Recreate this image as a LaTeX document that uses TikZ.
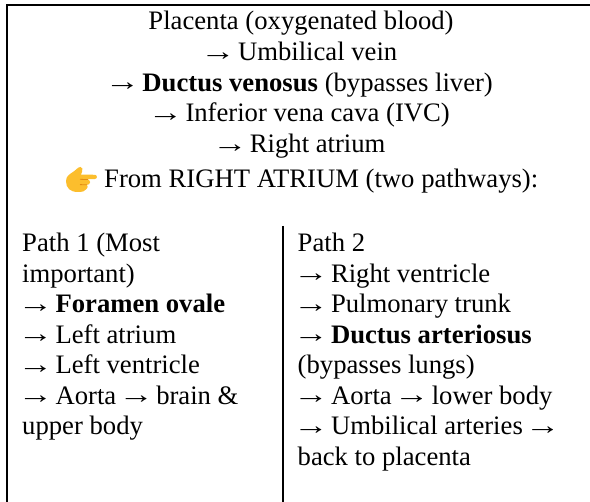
\documentclass[tikz,border=0pt]{standalone}
\usepackage{fontspec}
\setmainfont{Liberation Serif}
\definecolor{handorange}{RGB}{252,190,45}
\definecolor{handdark}{RGB}{226,140,20}
\newcommand{\longarr}{\makebox[1em][c]{\raisebox{0.5pt}{\scalebox{1.32}[1]{→}}}}
\tikzset{
  centerline/.style={anchor=base,inner sep=0pt,font=\fontsize{26.67}{30.67}\selectfont},
  leftline/.style={anchor=base west,inner sep=0pt,font=\fontsize{26.67}{30.67}\selectfont},
  rulestroke/.style={line width=2.2pt,black}
}
\begin{document}
\begin{tikzpicture}[x=1pt,y=-1pt]
\useasboundingbox (0,0) rectangle (590,502);
\fill[white] (0,0) rectangle (590,502);
\draw[rulestroke] (590,5) -- (7,5) -- (7,502);
\draw[rulestroke] (283,226) -- (283,502);
\node[centerline] (t1) at (301,30) {Placenta (oxygenated blood)};
\node[centerline] (t2) at (301,60.7) {\longarr{} Umbilical vein};
\node[centerline] (t3) at (301,91.4) {\longarr{} \textbf{Ductus venosus} (bypasses liver)};
\node[centerline] (t4) at (301,122) {\longarr{} Inferior vena cava (IVC)};
\node[centerline] (t5) at (301,152.7) {\longarr{} Right atrium};
\node[leftline] (t6) at (104,188) {From RIGHT ATRIUM (two pathways):};
% hand
\fill[handorange] (66,181) .. controls (66,176) and (70,174) .. (73,172) .. controls (76,170) and (78,167) .. (80.5,167) .. controls (82.5,167) and (83,169.5) .. (82,172) -- (81,174.5) -- (95,174.8) .. controls (97.5,175) and (97.5,178.8) .. (95,179) -- (85,179.3) -- (89,180) .. controls (90.5,180.5) and (90.5,184) .. (89,184.3) -- (87,184.8) .. controls (88,185.5) and (88,188.5) .. (86.5,189) .. controls (85,191) and (83,192) .. (78,192) .. controls (70,192) and (66,188) .. (66,181) -- cycle;
\draw[handdark,line width=0.8pt] (80,179.3) -- (88,179.6) (80,184.6) -- (87,184.8);
\node[leftline] (a1) at (22,252) {Path 1 (Most};
\node[leftline] (a2) at (22,282.5) {important)};
\node[leftline] (a3) at (22,313) {\longarr{} \textbf{Foramen ovale}};
\node[leftline] (a4) at (22,343.4) {\longarr{} Left atrium};
\node[leftline] (a5) at (22,373.9) {\longarr{} Left ventricle};
\node[leftline] (a6) at (22,404.3) {\longarr{} Aorta \longarr{} brain \&};
\node[leftline] (a7) at (22,434.8) {upper body};
\node[leftline] (b1) at (297.5,252) {Path 2};
\node[leftline] (b2) at (297.5,282.5) {\longarr{} Right ventricle};
\node[leftline] (b3) at (297.5,313) {\longarr{} Pulmonary trunk};
\node[leftline] (b4) at (297.5,343.4) {\longarr{} \textbf{Ductus arteriosus}};
\node[leftline] (b5) at (297.5,373.9) {(bypasses lungs)};
\node[leftline] (b6) at (297.5,404.3) {\longarr{} Aorta \longarr{} lower body};
\node[leftline] (b7) at (297.5,434.8) {\longarr{} Umbilical arteries \longarr{}};
\node[leftline] (b8) at (297.5,465.2) {back to placenta};
\end{tikzpicture}
\end{document}
